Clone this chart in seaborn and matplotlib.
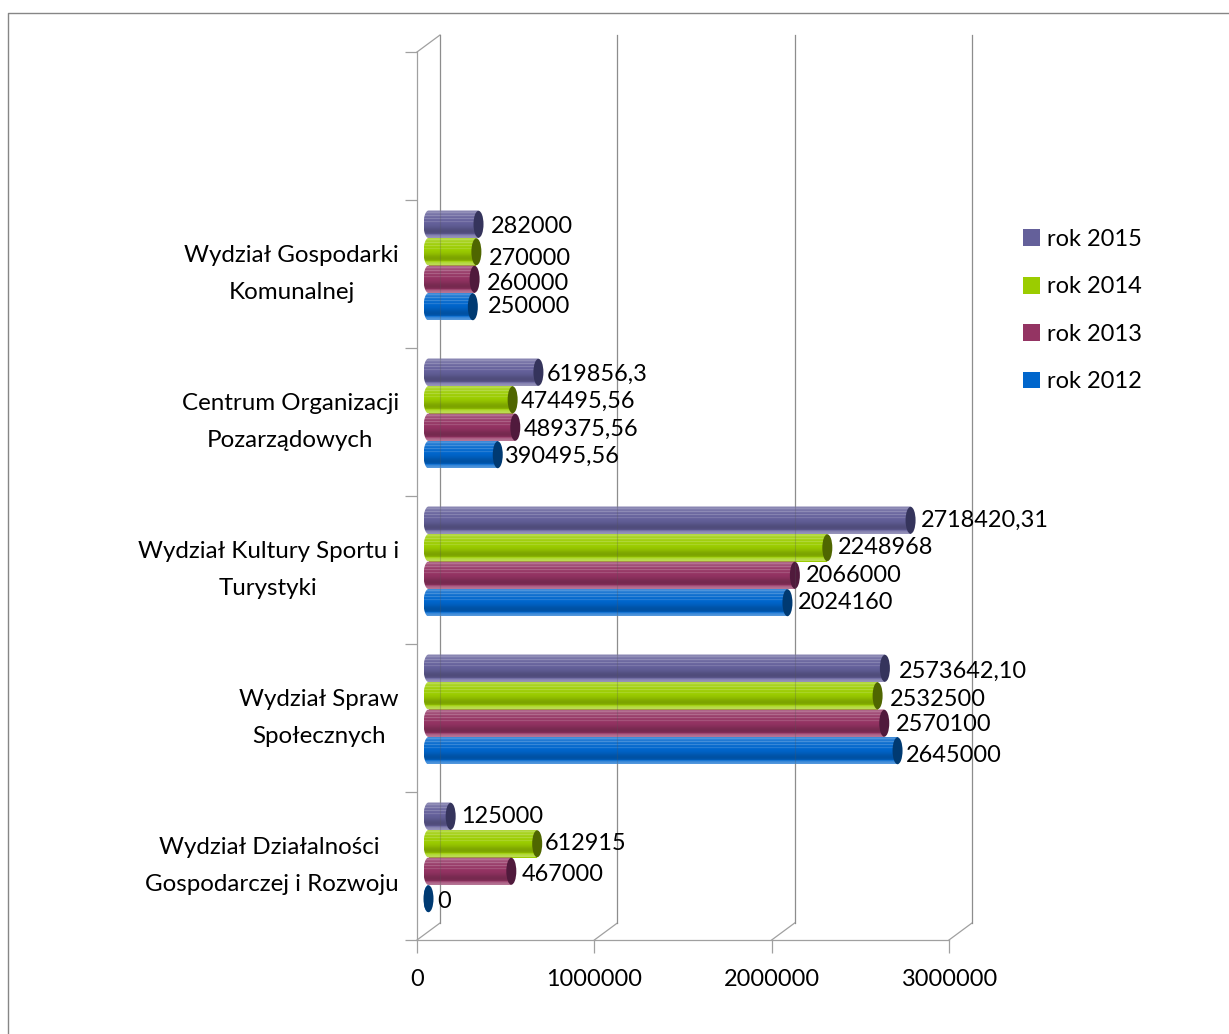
import numpy as np
import pandas as pd
import matplotlib
matplotlib.use("Agg")
import matplotlib.pyplot as plt
import seaborn as sns
from matplotlib.lines import Line2D
from matplotlib.patches import Ellipse
from matplotlib.path import Path
from matplotlib.transforms import Affine2D, IdentityTransform

categories = ["Wydział Gospodarki\nKomunalnej",
              "Centrum Organizacji\nPozarządowych",
              "Wydział Kultury Sportu i\nTurystyki",
              "Wydział Spraw\nSpołecznych",
              "Wydział Działalności \nGospodarczej i Rozwoju"]
years = ["rok 2015", "rok 2014", "rok 2013", "rok 2012"]
rok_2015 = [282000, 619856.3, 2718420.31, 2573642.10, 125000]
rok_2014 = [270000, 474495.56, 2248968, 2532500, 612915]
rok_2013 = [260000, 489375.56, 2066000, 2570100, 467000]
rok_2012 = [250000, 390495.56, 2024160, 2645000, 0]
text_2015 = ["282000", "619856,3", "2718420,31", "2573642,10", "125000"]
text_2014 = ["270000", "474495,56", "2248968", "2532500", "612915"]
text_2013 = ["260000", "489375,56", "2066000", "2570100", "467000"]
text_2012 = ["250000", "390495,56", "2024160", "2645000", "0"]
x_ticks = [0, 1000000, 2000000, 3000000]

colors = ["#64609A", "#9BCC00", "#943463", "#0066CC"]
cap_colors = ["#35345C", "#4F6600", "#501A3C", "#003A72"]
# label offsets (px) from the cylinder end
off_x = [[12, 8, 10, 14, 10], [12, 8, 11, 12, 8], [12, 8, 11, 12, 10], [15, 6, 10, 8, 9]]
off_y = [[0, 0, -2, 1, -2], [5, 0, -2, 2, -2], [2, 0, -2, -1, 1], [-2, 0, -2, 3, 1]]

W, H = 1229, 1034
plt.rcParams["font.family"] = ["Lato", "DejaVu Sans"]
FS = 16.9
GRID = "#A0A0A0"

fig = plt.figure(figsize=(W / 100, H / 100), dpi=100, facecolor="white")
ax = fig.add_axes([417 / W, 1 - 940 / H, (949 - 417) / W, (940 - 52) / H])

blank = " "
rows = []
for year, vals in zip(years, [rok_2015, rok_2014, rok_2013, rok_2012]):
    for cat, v in zip(categories, vals):
        rows.append({"wydzial": cat, "rok": year, "kwota": v})
df = pd.DataFrame(rows)
order = [blank] + categories
sns.barplot(data=df, y="wydzial", x="kwota", hue="rok", order=order, hue_order=years,
            palette=colors, width=0.743, errorbar=None, saturation=1, ax=ax, zorder=3,
            linewidth=0, legend=True)
ax.set_xlim(0, 3000000)
ax.set_ylim(5.5, -0.5)
ax.set_xlabel("")
ax.set_ylabel("")
ax.set_facecolor("none")

for s in ["top", "right"]:
    ax.spines[s].set_visible(False)
for s in ["left", "bottom"]:
    ax.spines[s].set_color(GRID)
    ax.spines[s].set_linewidth(0.9)

ax.set_xticks(x_ticks, [str(t) for t in x_ticks])
ax.tick_params(axis="x", length=9.4, width=0.9, color=GRID, pad=11.2, labelsize=FS, labelcolor="black")
ax.set_yticks(np.arange(6), [""] + categories, multialignment="center", linespacing=1.9)
ax.tick_params(axis="y", which="major", length=0, pad=13, labelsize=17.4, labelcolor="black")
ax.set_yticks(np.arange(-0.5, 6), minor=True)
ax.tick_params(axis="y", which="minor", length=8.6, width=0.9, color=GRID)
for lab in ax.get_yticklabels():
    lab.set_va("center")

# legend
handles, labels = ax.get_legend_handles_labels()
leg = ax.legend(handles, labels, loc="upper left", bbox_to_anchor=(1023, H - 229), bbox_transform=IdentityTransform(),
                frameon=False, fontsize=17, borderpad=0, borderaxespad=0, handlelength=0.72,
                handleheight=0.72, handletextpad=0.3, labelspacing=1.12)

fig.canvas.draw()

# 3-D depth: wall and floor
DX, DY = 23, 17
wall = ax.transData + Affine2D().translate(DX, DY)
mid = ax.transData + Affine2D().translate(11.5, 8.5)
ident = IdentityTransform()
for t in x_ticks:
    ax.plot([t, t], [5.5, -0.5], transform=wall, color=GRID, lw=0.9, clip_on=False, zorder=1)
    ax.plot([t, t], [5.5, -0.5], transform=wall, color="#555555", lw=0.8, alpha=0.25, clip_on=False, zorder=5)
    px, py = ax.transData.transform((t, 5.5))
    ax.add_line(Line2D([px, px + DX], [py, py + DY], transform=ident, color=GRID, lw=0.9, clip_on=False, zorder=1))
px, py = ax.transData.transform((0, -0.5))
ax.add_line(Line2D([px, px + DX], [py, py + DY], transform=ident, color=GRID, lw=0.9, clip_on=False, zorder=1))

# cylinders
shade = np.array([.22, .24, .30, .18, .13, .27, .10, .06, .22, .05, .03, .15, .02, .0,
                  -.02, -.04, -.07, -.10, -.14, -.17, -.19, -.20, -.18, -.12, .10, .22, .28, .32])
rx = 5.0 / ((949 - 417) / 3000000)
all_text = [text_2015, text_2014, text_2013, text_2012]
for h, container in enumerate(ax.containers):
    base = np.array(matplotlib.colors.to_rgb(colors[h]))
    grad = np.zeros((len(shade), 1, 3))
    for i, s in enumerate(shade):
        grad[i, 0] = base + (1 - base) * s if s > 0 else base * (1 + s)
    for bar in container:
        bar.set_transform(mid)
        x, y, w, hgt = bar.get_x(), bar.get_y(), bar.get_width(), bar.get_height()
        if np.isnan(w):
            continue
        cy = y + hgt / 2
        idx = int(round(cy)) - 1
        if idx < 0:
            continue
        t = np.linspace(np.pi / 2, 3 * np.pi / 2, 24)
        xs = x + rx * np.cos(t)
        ys = cy - hgt / 2 * np.sin(t)
        verts = np.column_stack([np.r_[xs, x + w, x + w, xs[0]], np.r_[ys, y + hgt, y, ys[0]]])
        im = ax.imshow(grad, extent=(x - rx, x + w, y + hgt, y), aspect="auto",
                       interpolation="bilinear", zorder=3.5)
        im.set_transform(mid)
        im.set_clip_path(Path(verts), mid)
        ax.add_patch(Ellipse((x + w, cy), 2 * rx, hgt * 0.98, facecolor=cap_colors[h],
                             edgecolor="none", transform=mid, zorder=4, clip_on=False))
        ax.annotate(all_text[h][idx], xy=(x + w, cy), xycoords=mid,
                    xytext=(off_x[h][idx], -off_y[h][idx] - 2), textcoords="offset pixels",
                    ha="left", va="center", fontsize=FS, color="black", zorder=6)
ax.set_xlim(0, 3000000)
ax.set_ylim(5.5, -0.5)

# outer chart border (open on the right and bottom)
fig.add_artist(Line2D([8 / W, 8 / W, 1], [0, 1 - 13 / H, 1 - 13 / H], transform=fig.transFigure,
                      color="#868686", lw=1.0))
fig.savefig("out.png", dpi=100, facecolor="white")
